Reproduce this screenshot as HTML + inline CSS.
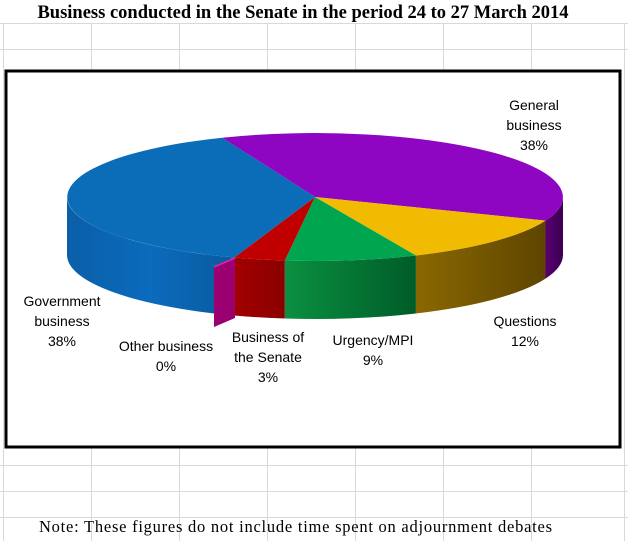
<!DOCTYPE html>
<html><head><meta charset="utf-8"><style>
html,body{margin:0;padding:0;background:#fff}
svg{display:block}
</style></head><body>
<svg width="628" height="541" viewBox="0 0 628 541" xmlns="http://www.w3.org/2000/svg">
<defs>
<linearGradient id="gb" x1="0" x2="1" y1="0" y2="0"><stop offset="0" stop-color="#0a5fa8"/><stop offset="0.5" stop-color="#0b6bbd"/><stop offset="1" stop-color="#0a5a9e"/></linearGradient>
<linearGradient id="gr" x1="0" x2="1"><stop offset="0" stop-color="#a30000"/><stop offset="1" stop-color="#8a0000"/></linearGradient>
<linearGradient id="gg" x1="0" x2="1"><stop offset="0" stop-color="#0a9040"/><stop offset="1" stop-color="#005c28"/></linearGradient>
<linearGradient id="gy" x1="0" x2="1"><stop offset="0" stop-color="#8a6800"/><stop offset="1" stop-color="#5e4500"/></linearGradient>
<linearGradient id="gp" x1="0" x2="1"><stop offset="0" stop-color="#5a0070"/><stop offset="1" stop-color="#3a0050"/></linearGradient>
</defs>
<g stroke="#d9d9d9" stroke-width="1">
<line x1="0" y1="23.5" x2="628" y2="23.5"/><line x1="0" y1="49.5" x2="628" y2="49.5"/>
<line x1="0" y1="465.5" x2="628" y2="465.5"/><line x1="0" y1="491.5" x2="628" y2="491.5"/><line x1="0" y1="517.5" x2="628" y2="517.5"/>
<line x1="3.5" y1="23" x2="3.5" y2="541"/><line x1="91.5" y1="23" x2="91.5" y2="541"/><line x1="179.5" y1="23" x2="179.5" y2="541"/><line x1="267.5" y1="23" x2="267.5" y2="541"/><line x1="355.5" y1="23" x2="355.5" y2="541"/><line x1="443.5" y1="23" x2="443.5" y2="541"/><line x1="531.5" y1="23" x2="531.5" y2="541"/><line x1="624.5" y1="23" x2="624.5" y2="541"/>
</g>
<text x="303" y="18" text-anchor="middle" font-family="Liberation Serif, serif" font-weight="bold" font-size="18.5">Business conducted in the Senate in the period 24 to 27 March 2014</text>
<rect x="6" y="71" width="614" height="376" fill="#fff" stroke="#000" stroke-width="3"/>
<path d="M545.5,220.6 A248,64 0 0 0 563,197 L563,255 A248,64 0 0 1 545.5,278.6 Z" fill="url(#gp)"/>
<path d="M415.9,255.5 A248,64 0 0 0 545.5,220.6 L545.5,278.6 A248,64 0 0 1 415.9,313.5 Z" fill="url(#gy)"/>
<path d="M284.8,260.5 A248,64 0 0 0 415.9,255.5 L415.9,313.5 A248,64 0 0 1 284.8,318.5 Z" fill="url(#gg)"/>
<path d="M234.3,257.5 A248,64 0 0 0 284.8,260.5 L284.8,318.5 A248,64 0 0 1 234.3,315.5 Z" fill="url(#gr)"/>
<path d="M67,197 A248,64 0 0 0 234.3,257.5 L234.3,315.5 A248,64 0 0 1 67,255 Z" fill="url(#gb)"/>
<path d="M315,197 L222.1,137.7 A248,64 0 0 1 545.5,220.6 Z" fill="#8e05c2"/>
<path d="M315,197 L545.5,220.6 A248,64 0 0 1 415.9,255.5 Z" fill="#f0bb00"/>
<path d="M315,197 L415.9,255.5 A248,64 0 0 1 284.8,260.5 Z" fill="#00a64f"/>
<path d="M315,197 L284.8,260.5 A248,64 0 0 1 234.3,257.5 Z" fill="#c00000"/>
<path d="M315,197 L234.3,257.5 A248,64 0 0 1 222.1,137.7 Z" fill="#0b6cb8"/>
<path d="M214,267 L235,258 L235,318 L214,327 Z" fill="#9a0070"/>
<path d="M214,267 L235,258" stroke="#e020b0" stroke-width="1.5"/>
<g font-family="Liberation Sans, sans-serif" font-size="14" fill="#000" text-anchor="middle">
<text x="534" y="110">General</text><text x="534" y="130">business</text><text x="534" y="150">38%</text>
<text x="525" y="326">Questions</text><text x="525" y="346">12%</text>
<text x="373" y="345">Urgency/MPI</text><text x="373" y="365">9%</text>
<text x="268" y="342">Business of</text><text x="268" y="362">the Senate</text><text x="268" y="382">3%</text>
<text x="166" y="351">Other business</text><text x="166" y="371">0%</text>
<text x="62" y="306">Government</text><text x="62" y="326">business</text><text x="62" y="346">38%</text>
</g>
<text x="39" y="532" font-family="Liberation Serif, serif" font-size="16.5" textLength="513" lengthAdjust="spacing">Note: These figures do not include time spent on adjournment debates</text>
</svg>
</body></html>
